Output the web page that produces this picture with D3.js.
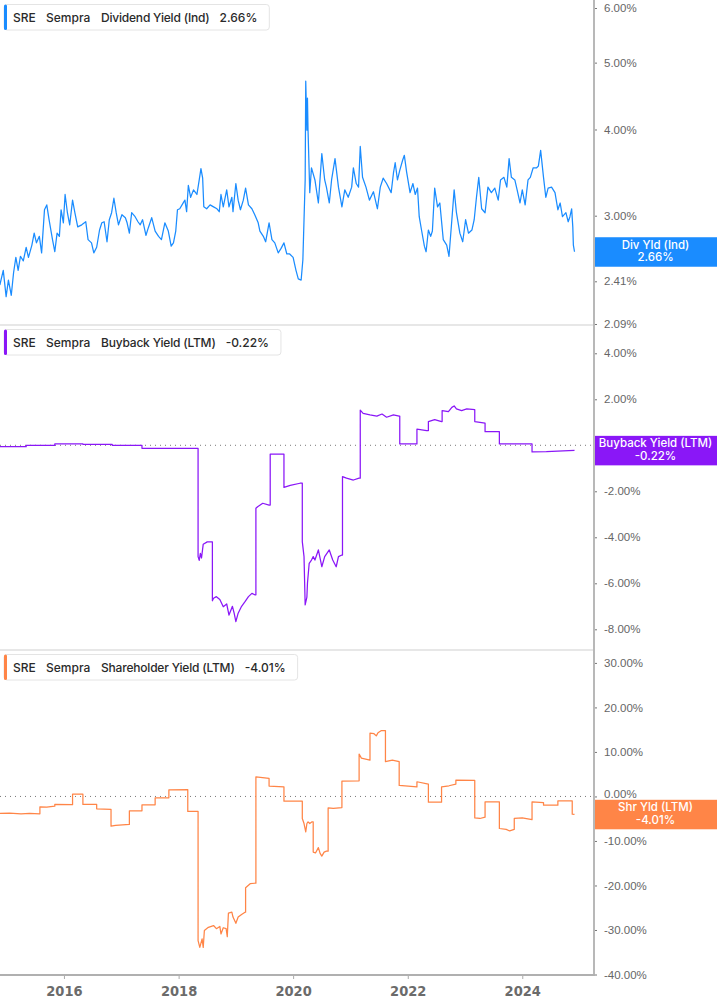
<!DOCTYPE html>
<html>
<head>
<meta charset="utf-8">
<script src="https://cdn.jsdelivr.net/npm/d3@7"></script>
<style>
body{margin:0;background:#fff;}
svg{display:block;font-family:Inter,"Noto Sans",sans-serif;}
.yaxis text{fill:#666;font-size:11.5px;}
.yaxis line{stroke:#777;}
.xaxis text{fill:#6b6b6b;font-size:14.5px;font-weight:700;font-family:"Liberation Sans Narrow","DejaVu Sans Condensed",sans-serif;}
.xaxis line{stroke:#aaa;}
</style>
</head>
<body>
<svg id="chart"></svg>
<script>
// labels and tick values
var ticker = "SRE", company = "Sempra";
var seriesNames = ["Dividend Yield (Ind)", "Buyback Yield (LTM)", "Shareholder Yield (LTM)"];
var shortNames = ["Div Yld (Ind)", "Buyback Yield (LTM)", "Shr Yld (LTM)"];
var lastValues = [2.66, -0.22, -4.01];
var seriesColors = ["#1a8cff", "#8a17f7", "#ff8547"];
var divTicks = [2.09, 2.41, 3, 4, 5, 6];
var buybackTicks = [-8, -6, -4, -2, 2, 4];
var shrTicks = [-40, -30, -20, -10, 0, 10, 20, 30];
var yearTicks = [2016, 2018, 2020, 2022, 2024];

// [decimal year, percent]
var divYield = [
[2014.88,2.38],[2014.94,2.50],[2014.99,2.29],[2015.03,2.42],[2015.08,2.30],[2015.12,2.48],[2015.16,2.61],[2015.20,2.50],[2015.24,2.62],[2015.29,2.58],
[2015.34,2.70],[2015.38,2.61],[2015.44,2.72],[2015.48,2.83],[2015.52,2.74],[2015.57,2.80],[2015.61,2.65],[2015.66,3.06],[2015.70,3.11],[2015.74,2.96],
[2015.80,2.77],[2015.84,2.66],[2015.88,2.83],[2015.92,2.80],[2015.95,3.06],[2015.99,2.93],[2016.02,3.22],[2016.06,3.03],[2016.10,2.91],[2016.15,3.16],
[2016.19,3.03],[2016.24,2.89],[2016.31,2.91],[2016.38,2.94],[2016.42,2.77],[2016.48,2.74],[2016.52,2.65],[2016.57,2.70],[2016.62,2.86],[2016.66,2.93],
[2016.70,2.94],[2016.75,2.75],[2016.79,2.96],[2016.83,3.03],[2016.87,3.18],[2016.91,3.03],[2016.95,2.91],[2017.01,3.01],[2017.07,2.98],[2017.10,2.93],
[2017.14,2.83],[2017.18,3.03],[2017.24,2.99],[2017.29,2.94],[2017.33,2.91],[2017.37,2.96],[2017.43,2.81],[2017.47,2.88],[2017.53,2.98],[2017.59,2.85],
[2017.65,2.80],[2017.70,2.77],[2017.76,2.93],[2017.82,2.85],[2017.87,2.71],[2017.91,2.74],[2017.95,2.85],[2017.98,3.06],[2018.02,3.07],[2018.07,3.12],
[2018.11,3.16],[2018.14,3.04],[2018.17,3.32],[2018.21,3.19],[2018.26,3.27],[2018.32,3.22],[2018.36,3.38],[2018.39,3.51],[2018.42,3.40],[2018.44,3.09],
[2018.49,3.07],[2018.55,3.11],[2018.61,3.09],[2018.67,3.07],[2018.71,3.04],[2018.74,3.22],[2018.78,3.09],[2018.84,3.27],[2018.88,3.09],[2018.93,3.19],
[2018.95,3.04],[2019.00,3.34],[2019.04,3.16],[2019.08,3.06],[2019.13,3.16],[2019.17,3.29],[2019.22,3.11],[2019.28,3.07],[2019.33,3.01],[2019.39,2.93],
[2019.42,2.85],[2019.48,2.80],[2019.52,2.75],[2019.58,2.93],[2019.63,2.77],[2019.68,2.74],[2019.74,2.65],[2019.79,2.69],[2019.84,2.74],[2019.89,2.64],
[2019.94,2.64],[2020.00,2.61],[2020.05,2.50],[2020.09,2.43],[2020.14,2.42],[2020.17,2.59],[2020.19,2.96],[2020.21,3.38],[2020.22,4.70],[2020.24,3.99],
[2020.25,4.44],[2020.26,3.99],[2020.29,3.24],[2020.32,3.52],[2020.38,3.38],[2020.44,3.13],[2020.50,3.69],[2020.55,3.38],[2020.58,3.30],[2020.63,3.13],
[2020.67,3.38],[2020.73,3.63],[2020.79,3.30],[2020.85,3.09],[2020.90,3.27],[2020.96,3.19],[2021.02,3.30],[2021.05,3.52],[2021.10,3.34],[2021.14,3.30],
[2021.17,3.78],[2021.21,3.41],[2021.27,3.30],[2021.33,3.16],[2021.40,3.25],[2021.47,3.07],[2021.52,3.30],[2021.57,3.40],[2021.63,3.34],[2021.71,3.24],
[2021.75,3.46],[2021.78,3.58],[2021.82,3.38],[2021.86,3.49],[2021.91,3.61],[2021.94,3.67],[2021.98,3.47],[2022.04,3.24],[2022.09,3.34],[2022.13,3.22],
[2022.17,3.29],[2022.20,2.99],[2022.24,2.86],[2022.29,2.71],[2022.32,2.66],[2022.36,2.86],[2022.40,2.80],[2022.43,2.85],[2022.47,3.29],[2022.52,3.09],
[2022.56,3.13],[2022.62,2.77],[2022.68,2.72],[2022.72,2.62],[2022.77,2.96],[2022.81,3.27],[2022.85,3.03],[2022.91,2.83],[2022.96,2.75],[2023.01,2.96],
[2023.06,2.83],[2023.12,2.86],[2023.16,2.96],[2023.20,3.19],[2023.24,3.41],[2023.29,3.07],[2023.35,3.03],[2023.40,3.30],[2023.46,3.24],[2023.52,3.29],
[2023.58,3.16],[2023.62,3.38],[2023.68,3.41],[2023.73,3.30],[2023.77,3.63],[2023.81,3.41],[2023.87,3.38],[2023.91,3.27],[2023.96,3.13],[2024.00,3.27],
[2024.05,3.11],[2024.10,3.38],[2024.14,3.41],[2024.19,3.52],[2024.25,3.52],[2024.28,3.54],[2024.32,3.73],[2024.37,3.41],[2024.41,3.19],[2024.45,3.29],
[2024.51,3.30],[2024.57,3.24],[2024.62,3.06],[2024.66,3.13],[2024.70,2.99],[2024.76,3.03],[2024.80,2.94],[2024.83,2.99],[2024.86,3.07],[2024.88,2.89],
[2024.89,2.72],[2024.91,2.66]
];

var buybackYield = [
[2014.88,-0.06],[2015.34,-0.06],[2015.34,0.0],[2015.84,0.0],[2015.84,0.06],[2016.33,0.06],[2016.33,0.04],[2016.84,0.04],[2016.84,0.0],[2017.36,0.0],
[2017.36,-0.13],[2018.34,-0.13],[2018.34,-4.84],[2018.36,-5.0],[2018.38,-4.7],[2018.40,-4.9],[2018.43,-4.3],[2018.50,-4.2],[2018.59,-4.2],[2018.59,-6.76],
[2018.61,-6.65],[2018.66,-6.58],[2018.72,-6.7],[2018.78,-7.02],[2018.84,-6.9],[2018.88,-7.38],[2018.94,-7.0],[2018.97,-7.3],[2019.00,-7.67],[2019.04,-7.3],
[2019.10,-7.0],[2019.16,-6.8],[2019.22,-6.58],[2019.28,-6.44],[2019.33,-6.5],[2019.35,-6.5],[2019.35,-2.74],[2019.38,-2.67],[2019.47,-2.52],[2019.58,-2.6],
[2019.60,-2.6],[2019.60,-0.38],[2019.84,-0.38],[2019.84,-1.83],[2019.95,-1.74],[2020.12,-1.65],[2020.16,-1.65],[2020.16,-4.19],[2020.19,-4.84],[2020.21,-6.94],
[2020.24,-6.6],[2020.25,-6.0],[2020.28,-5.13],[2020.32,-4.99],[2020.35,-4.84],[2020.38,-4.99],[2020.44,-4.55],[2020.50,-5.28],[2020.55,-4.84],[2020.63,-4.55],
[2020.69,-4.99],[2020.75,-5.28],[2020.79,-4.84],[2020.85,-4.77],[2020.86,-4.77],[2020.86,-1.36],[2020.93,-1.43],[2021.05,-1.51],[2021.15,-1.43],[2021.17,-1.43],
[2021.17,1.53],[2021.22,1.39],[2021.34,1.32],[2021.46,1.27],[2021.55,1.36],[2021.63,1.22],[2021.75,1.32],[2021.85,1.27],[2021.86,1.27],[2021.86,0.06],
[2022.16,0.06],[2022.16,0.70],[2022.33,0.64],[2022.36,0.64],[2022.36,1.03],[2022.47,1.12],[2022.59,1.03],[2022.60,1.03],[2022.60,1.51],[2022.71,1.46],
[2022.77,1.65],[2022.81,1.71],[2022.85,1.58],[2022.94,1.51],[2023.03,1.58],[2023.17,1.55],[2023.17,1.03],[2023.35,0.96],[2023.35,0.59],[2023.60,0.59],
[2023.60,0.06],[2024.17,0.06],[2024.17,-0.29],[2024.42,-0.28],[2024.91,-0.22]
];

var shareholderYield = [
[2014.88,-3.83],[2015.05,-3.75],[2015.25,-3.9],[2015.40,-3.8],[2015.58,-3.9],[2015.58,-2.34],[2015.70,-2.4],[2015.84,-2.2],[2015.84,-1.8],[2016.15,-1.85],
[2016.15,0.52],[2016.33,0.52],[2016.33,-1.8],[2016.57,-1.8],[2016.57,-2.79],[2016.82,-2.9],[2016.82,-6.69],[2016.90,-6.5],[2017.14,-6.3],[2017.14,-3.24],
[2017.36,-3.24],[2017.36,-1.89],[2017.59,-1.89],[2017.59,-0.3],[2017.83,-0.3],[2017.83,1.49],[2018.16,1.55],[2018.16,-3.38],[2018.34,-3.38],[2018.34,-32.4],
[2018.37,-33.9],[2018.41,-32.0],[2018.43,-33.9],[2018.45,-30.1],[2018.52,-29.4],[2018.61,-29.0],[2018.66,-29.7],[2018.72,-29.2],[2018.74,-30.9],[2018.78,-29.5],
[2018.83,-29.7],[2018.85,-31.5],[2018.87,-26.2],[2018.93,-26.0],[2018.95,-27.1],[2019.00,-28.5],[2019.04,-27.1],[2019.10,-26.5],[2019.16,-26.0],[2019.17,-26.0],
[2019.17,-20.5],[2019.25,-19.6],[2019.33,-19.5],[2019.35,-19.5],[2019.35,4.41],[2019.58,4.05],[2019.58,2.32],[2019.84,2.16],[2019.84,-1.06],[2020.16,-1.06],
[2020.16,-4.95],[2020.19,-6.08],[2020.22,-7.97],[2020.24,-6.08],[2020.26,-5.71],[2020.29,-6.08],[2020.33,-5.71],[2020.35,-5.71],[2020.35,-12.5],[2020.39,-12.7],
[2020.44,-11.5],[2020.47,-12.8],[2020.50,-13.4],[2020.54,-12.5],[2020.58,-12.3],[2020.61,-12.3],[2020.61,-2.57],[2020.70,-2.7],[2020.85,-2.5],[2020.85,3.45],
[2021.15,3.5],[2021.15,9.53],[2021.19,8.6],[2021.34,8.18],[2021.34,14.2],[2021.41,14.1],[2021.45,13.6],[2021.48,14.3],[2021.54,14.8],[2021.61,14.8],
[2021.61,7.8],[2021.73,8.18],[2021.85,7.8],[2021.85,2.47],[2022.16,2.16],[2022.16,3.3],[2022.36,2.77],[2022.36,-1.28],[2022.59,-1.28],[2022.59,2.16],
[2022.72,2.4],[2022.84,2.77],[2022.84,3.67],[2023.17,3.6],[2023.17,-4.82],[2023.26,-4.95],[2023.35,-4.65],[2023.35,-1.21],[2023.60,-1.21],[2023.60,-7.2],
[2023.72,-7.4],[2023.78,-7.75],[2023.86,-7.4],[2023.86,-4.95],[2024.00,-4.8],[2024.17,-5.2],[2024.17,-1.21],[2024.37,-1.36],[2024.37,-1.96],[2024.62,-1.96],
[2024.62,-0.98],[2024.87,-0.98],[2024.87,-3.99],[2024.91,-4.01]
];

var screen = {width: 717, height: 1005};
var plotRight = 594;
var axisY = 975;

// decimal year -> Date
var toDate = function(yr){
    var y0 = Math.floor(yr);
    var a = new Date(y0, 0, 1), b = new Date(y0 + 1, 0, 1);
    return new Date(a.getTime() + (yr - y0) * (b - a));
}
// plain hyphen for negatives, like the source
var pct = function(v){ return v.toFixed(2) + "%"; }

var svg = d3.select("#chart")
    .attr("width", screen.width)
    .attr("height", screen.height);

var xScale = d3.scaleTime()
    .domain([toDate(2014.883), toDate(2025.25)])
    .range([0, plotRight]);

var panels = [
    {top: 0, data: divYield, ticks: divTicks, dotted: false,
     y: d3.scaleLog().domain([2.09, 6]).range([324, 8])},
    {top: 325, data: buybackYield, ticks: buybackTicks, dotted: true,
     y: d3.scaleLinear().domain([-8.9, 5.23]).range([650, 325])},
    {top: 650, data: shareholderYield, ticks: shrTicks, dotted: true,
     y: d3.scaleLinear().domain([-40, 32.9]).range([974.5, 650])}
];

//panel separators
[325, 650].forEach(function(yy){
    svg.append("line")
        .attr("x1", 0).attr("x2", plotRight)
        .attr("y1", yy).attr("y2", yy)
        .attr("stroke", "#cfcfcf").attr("stroke-width", 1);
});

panels.forEach(function(p, i){
    var yScale = p.y;

    if(p.dotted){
        svg.append("line")
            .attr("x1", 0).attr("x2", plotRight)
            .attr("y1", yScale(0)).attr("y2", yScale(0))
            .attr("stroke", "#777").attr("stroke-width", 1)
            .attr("stroke-dasharray", "1,4");
    }

    var lineGen = d3.line()
        .x(function(d){ return xScale(toDate(d[0])); })
        .y(function(d){ return yScale(d[1]); });

    svg.append("path")
        .datum(p.data)
        .attr("d", lineGen)
        .attr("fill", "none")
        .attr("stroke", seriesColors[i])
        .attr("stroke-width", 1.25)
        .attr("stroke-linejoin", "round");

    //right axis
    var yAxis = d3.axisRight(yScale)
        .tickValues(p.ticks)
        .tickSize(3)
        .tickSizeOuter(0)
        .tickPadding(7)
        .tickFormat(pct);

    var ax = svg.append("g")
        .attr("class", "yaxis")
        .attr("transform", "translate(" + plotRight + ",0)")
        .call(yAxis)
        .call(function(g){ g.select(".domain").remove(); });
    // zero label sits just above the tag in the bottom panel
    ax.selectAll(".tick text").filter(function(d){ return d === 0; }).attr("dy", "0.1em");

    //legend box
    var lg = svg.append("g")
        .attr("transform", "translate(4," + (p.top + 4.5) + ")");
    var bg = lg.append("rect")
        .attr("height", 25.5).attr("rx", 3)
        .attr("fill", "#fff").attr("stroke", "#e4e4e4");
    lg.append("rect")
        .attr("width", 3).attr("height", 25.5).attr("rx", 1.5)
        .attr("fill", seriesColors[i]);

    var parts = [ticker, company, seriesNames[i], pct(lastValues[i])];
    var xs = [9, 42, 97];
    var lastEnd = 0;
    parts.forEach(function(t, k){
        var tx = k < 3 ? xs[k] : lastEnd + 10;
        var node = lg.append("text")
            .attr("x", tx).attr("y", 17.5)
            .attr("fill", "#2a2a2a")
            .attr("font-size", "12px")
            .attr("font-weight", 500)
            .attr("letter-spacing", k == 2 ? "-0.2px" : "0px")
            .text(t);
        lastEnd = tx + node.node().getComputedTextLength();
    });
    bg.attr("width", lastEnd + 12);

    //last value tag
    var yc = yScale(lastValues[i]);
    svg.append("rect")
        .attr("x", plotRight).attr("y", yc - 14.5)
        .attr("width", screen.width - plotRight).attr("height", 29.5)
        .attr("fill", seriesColors[i]);
    svg.append("text")
        .attr("x", 655.5).attr("y", yc - 3)
        .attr("text-anchor", "middle")
        .attr("fill", "#fff").attr("font-size", "11.5px").attr("font-weight", 500)
        .text(shortNames[i]);
    svg.append("text")
        .attr("x", 655.5).attr("y", yc + 9.5)
        .attr("text-anchor", "middle")
        .attr("fill", "#fff").attr("font-size", "11.5px").attr("font-weight", 500)
        .text(pct(lastValues[i]));
});

//vertical axis line
svg.append("line")
    .attr("x1", plotRight).attr("x2", plotRight)
    .attr("y1", 0).attr("y2", axisY)
    .attr("stroke", "#b8b8b8").attr("stroke-width", 2);

//bottom time axis
var xAxis = d3.axisBottom(xScale)
    .tickValues(yearTicks.map(function(y){ return new Date(y, 0, 1); }))
    .tickFormat(d3.timeFormat("%Y"))
    .tickSize(4)
    .tickSizeOuter(0)
    .tickPadding(7);

svg.append("g")
    .attr("class", "xaxis")
    .attr("transform", "translate(0," + axisY + ")")
    .call(xAxis)
    .call(function(g){ g.select(".domain").remove(); });

svg.append("line")
    .attr("x1", 0).attr("x2", plotRight + 1)
    .attr("y1", axisY).attr("y2", axisY)
    .attr("stroke", "#b0b0b0").attr("stroke-width", 2);
</script>
</body>
</html>
